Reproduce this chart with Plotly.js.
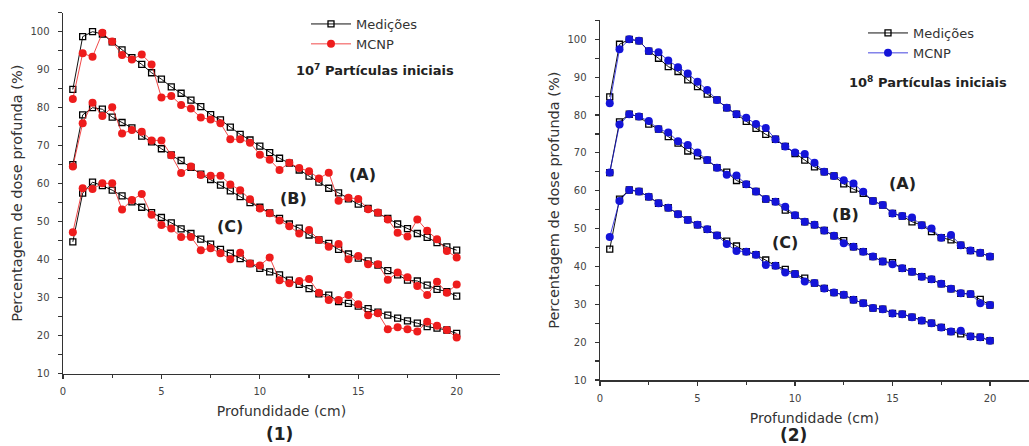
<!DOCTYPE html>
<html>
<head>
<meta charset="utf-8">
<script src="https://cdn.plot.ly/plotly-3.0.1.min.js"></script>
<style>html,body{margin:0;padding:0;background:#fff;}</style>
</head>
<body>
<div id="chart" style="width:1029px;height:446px;"></div>
<script>
// Depth (cm)
const depth = [0.5,1,1.5,2,2.5,3,3.5,4,4.5,5,5.5,6,6.5,7,7.5,8,8.5,9,9.5,10,
               10.5,11,11.5,12,12.5,13,13.5,14,14.5,15,15.5,16,16.5,17,17.5,18,18.5,19,19.5,20];

// Panel (1): 10^7 initial particles
const medA1 = [84.8,98.7,100,99.4,97.3,95.2,93.2,91.4,89.2,87.5,85.5,83.8,82,80.3,78.2,76.8,74.9,73,71.5,69.9,
               68.2,66.7,65.4,63.6,62,60.4,58.8,57.6,56,54.6,53.5,52.3,50.9,49.4,48.2,46.9,45.9,44.5,43.4,42.5];
const mcnpA1 = [82.3,94.3,93.4,99.7,97.4,93.9,92.7,94,91.4,82.7,83.1,80.7,79.8,77.4,76.9,75.9,71.7,71.7,70.8,67.6,
                66.3,63.6,65.5,64.1,63.3,61.4,62.9,55.5,56.3,56,53.3,52.4,50.6,47.1,46.1,50.6,47.6,45.4,42.3,40.6];
const medB1 = [65,78.1,80,79.6,77.5,76.1,74.7,72.5,71,69.2,67.6,66.1,64.3,62.5,61.1,59.6,58.1,56.6,55,53.8,
               52.3,50.9,49.4,48.3,46.5,45.2,44.3,42.7,41.5,40.4,39.7,38.6,37.1,36,34.6,34.4,33.3,32.2,31.6,30.4];
const mcnpB1 = [64.5,75.9,81.3,77.8,80.1,73.2,74.1,73.7,71.4,71.4,67.5,62.8,64.5,62.3,62.1,62.1,59.8,58.3,55.9,53.5,
                52.2,50.3,48.8,46.9,47.8,45.2,43.4,44.1,40.1,41,38.8,38.8,34.7,36.6,35.4,33.1,30.7,34.2,31.3,33.5];
const medC1 = [44.7,57.5,60.4,59.5,58.3,56.8,55.2,53.8,52.4,51.1,49.7,48.1,46.9,45.4,44.1,42.7,41.7,40.3,39,37.7,
               36.8,36,34.6,33.5,32.4,31,30.7,29,28.5,27.8,27.1,26.2,25.4,24.6,23.9,23.3,22.4,22,21.5,20.6];
const mcnpC1 = [47.2,58.8,58.6,60.1,60.1,53.2,55.7,57.3,51.8,49.1,48.2,46,46,42.5,43,41.7,40.1,41.8,39,38.5,
                40.6,34.6,33.8,34.4,34.9,31.3,29.4,29.4,30.7,28.3,25.4,25.9,21.7,22.2,21.7,21.1,23.7,22.6,21.5,19.5];

// Panel (2): 10^8 initial particles
const medA2 = [84.8,98.7,100,99.6,96.9,95,92.8,91.5,89.3,87.5,85.5,84,81.9,80.2,78.3,76.5,74.9,73.6,71.7,69.8,
               68.1,66.3,65,63.9,61.8,60.4,59.3,57.3,56.2,54,53.3,51.8,50.9,49.2,47.6,47,45.6,44.2,43.6,42.6];
const mcnpA2 = [83.1,97.4,100,99.6,96.9,96.6,94.4,92.6,91,88.8,86.6,84,81.9,80.2,79.3,77.6,76.6,73.6,71.7,70.1,
                69.7,67.4,65,63.9,62.8,61.9,59.7,57.3,56.2,54,53.3,52.9,50.9,50,47.6,48.3,45.6,44.2,43.6,42.6];
const medB2 = [64.8,78.2,80.2,79.6,77.6,76.3,74.3,72.6,70.5,69.2,68.1,66.1,64.9,62.7,61.7,59.8,57.8,57.1,54.9,53.5,
               51.8,51,49.5,48.1,46.8,45.2,43.9,42.6,41.3,41,39.5,38.6,37.3,36.6,35.4,34.1,32.9,32.7,31.3,29.8];
const mcnpB2 = [64.8,77.5,80.2,79.6,78.4,76.3,75.4,73.1,72.1,70.1,68.1,66.1,64.2,64,61.7,59.8,57.8,57.1,55.8,53.5,
                51.8,51,49.5,48.1,46.1,45.2,43.9,42.6,41.3,40.6,39.5,38.6,37.3,36.6,35.4,34.1,32.9,32.7,30.3,29.8];
const medC2 = [44.6,57.8,60.2,59.8,58.4,56.7,55.5,53.8,52.3,51,49.8,48.2,46.7,45.4,43.9,43.1,41.7,40.2,39.2,38,
               36.9,35.6,34.2,33.1,32.5,31.2,30.3,29,28.7,27.6,27.4,26.6,25.7,25,23.9,22.8,22.2,21.5,21.3,20.4];
const mcnpC2 = [47.8,57.3,60.2,59.8,58.4,56.7,55.5,53.8,52.3,51,49.8,48.2,45.9,44.1,43.9,43.1,40.4,40.2,38.4,38,
                36,35.6,34.2,33.1,32.5,31.2,30.3,29,28.7,27.6,27.4,26.6,25.7,25,23.9,22.8,23,21.5,21.3,20.4];

const curveLabels = ['(A)','(B)','(C)'];
const legendNames = ['Medições','MCNP'];
const particleNotes = ['10<sup>7</sup> Partículas iniciais','10<sup>8</sup> Partículas iniciais'];
const panelLabels = ['(1)','(2)'];

const FONT = 'DejaVu Sans, Verdana, sans-serif';
const RED = '#ee1c1c';
const BLUE = '#1414d8';

function medTrace(y, xa, ya, lg, show){
  return {x: depth, y: y, xaxis: xa, yaxis: ya, type: 'scatter', mode: 'lines+markers',
    name: legendNames[0], legend: lg, legendgroup: lg+'m', showlegend: show,
    line: {color: '#111', width: 1},
    marker: {symbol: 'square-open', size: 6, color: '#000', line: {width: 1.3, color: '#000'}}};
}
function mcnpTrace(y, xa, ya, lg, show, col){
  return {x: depth, y: y, xaxis: xa, yaxis: ya, type: 'scatter', mode: 'lines+markers',
    name: legendNames[1], legend: lg, legendgroup: lg+'c', showlegend: show,
    line: {color: col, width: 0.8},
    marker: {symbol: 'circle', size: 8, color: col}};
}

const data = [
  medTrace(medA1,'x','y','legend',true), medTrace(medB1,'x','y','legend',false), medTrace(medC1,'x','y','legend',false),
  mcnpTrace(mcnpA1,'x','y','legend',true,RED), mcnpTrace(mcnpB1,'x','y','legend',false,RED), mcnpTrace(mcnpC1,'x','y','legend',false,RED),
  medTrace(medA2,'x2','y2','legend2',true), medTrace(medB2,'x2','y2','legend2',false), medTrace(medC2,'x2','y2','legend2',false),
  mcnpTrace(mcnpA2,'x2','y2','legend2',true,BLUE), mcnpTrace(mcnpB2,'x2','y2','legend2',false,BLUE), mcnpTrace(mcnpC2,'x2','y2','legend2',false,BLUE)
];

function xAxis(domain, range, anchor){
  return {domain: domain, range: range, anchor: anchor, showline: true, linecolor: '#333', linewidth: 1.5,
    ticks: 'outside', ticklen: 4, tickwidth: 1.2, tickcolor: '#333', tick0: 0, dtick: 5,
    minor: {dtick: 2.5, ticks: 'outside', ticklen: 3, tickcolor: '#333', tickwidth: 1.2},
    showgrid: false, zeroline: false, ticklabelstandoff: 4,
    tickfont: {family: FONT, size: 10, color: '#444'},
    title: {text: 'Profundidade (cm)', font: {family: FONT, size: 14, color: '#333'}, standoff: 10}};
}
function yAxis(domain, anchor){
  return {domain: domain, range: [10, 105], anchor: anchor, showline: true, linecolor: '#333', linewidth: 1.5,
    ticks: 'outside', ticklen: 4, tickwidth: 1.2, tickcolor: '#333', tick0: 0, dtick: 10,
    minor: {dtick: 5, ticks: 'outside', ticklen: 4, tickcolor: '#333', tickwidth: 1.2},
    showgrid: false, zeroline: false, ticklabelstandoff: 6,
    tickfont: {family: FONT, size: 10, color: '#444'},
    title: {text: 'Percentagem de dose profunda (%)', font: {family: FONT, size: 14.5, color: '#333'}, standoff: 4}};
}

const W = 1029, H = 446;
const annFont = {family: FONT, size: 16, color: '#222'};
function paperNote(px, py, text, size){
  return {xref:'paper', yref:'paper', x: px/W, y: 1-py/H, xanchor:'center', yanchor:'middle',
          text: '<b>'+text+'</b>', showarrow:false, font:{family: FONT, size: size, color:'#222'}};
}
function curveNote(xr, yr, x, y, text){
  return {xref: xr, yref: yr, x: x, y: y, xanchor:'center', yanchor:'middle',
          text: '<b>'+text+'</b>', showarrow:false, font: annFont};
}
const annotations = [
  curveNote('x','y',15.2,62.3,curveLabels[0]),
  curveNote('x','y',11.7,56.2,curveLabels[1]),
  curveNote('x','y',8.5,48.7,curveLabels[2]),
  curveNote('x2','y2',15.5,62.0,curveLabels[0]),
  curveNote('x2','y2',12.6,53.6,curveLabels[1]),
  curveNote('x2','y2',9.5,46.2,curveLabels[2]),
  paperNote(374.5, 70, particleNotes[0], 13),
  paperNote(928, 82, particleNotes[1], 13),
  paperNote(279, 434, panelLabels[0], 17),
  paperNote(793, 435, panelLabels[1], 17)
];

const layout = {
  width: W, height: H, margin: {l:0, r:0, t:0, b:0},
  paper_bgcolor: '#fff', plot_bgcolor: '#fff',
  font: {family: FONT},
  xaxis: xAxis([63/W, 500/W], [0, 22.2], 'y'),
  yaxis: yAxis([1-373.7/H, 1-12.7/H], 'x'),
  xaxis2: xAxis([600/W, 1], [0, 22], 'y2'),
  yaxis2: yAxis([1-380/H, 1-20.4/H], 'x2'),
  legend: {x: 306/W, y: 1-9/H, xanchor:'left', yanchor:'top', bgcolor:'rgba(0,0,0,0)',
           font:{family: FONT, size: 13, color:'#333'}, itemwidth: 40, tracegroupgap: 0},
  legend2: {x: 863/W, y: 1-18/H, xanchor:'left', yanchor:'top', bgcolor:'rgba(0,0,0,0)',
           font:{family: FONT, size: 13, color:'#333'}, itemwidth: 40, tracegroupgap: 0},
  annotations: annotations,
  showlegend: true
};

Plotly.newPlot('chart', data, layout, {displayModeBar: false, staticPlot: true});
</script>
</body>
</html>
